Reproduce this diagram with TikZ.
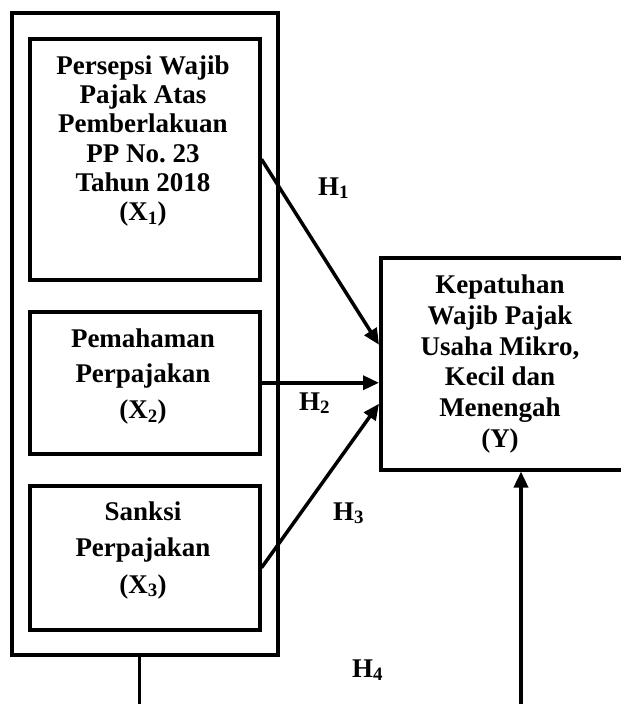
\documentclass[tikz,border=0pt]{standalone}
\usepackage{fontspec}
\setmainfont{Liberation Serif}
\usetikzlibrary{arrows.meta}

\tikzset{
    varbox/.style={draw, line width=3.5pt, inner sep=0pt, anchor=north west},
    vartext/.style={align=center, inner sep=0pt, font=\bfseries\fontsize{27}{#1}\selectfont},
    hlabel/.style={inner sep=0pt, anchor=base west, font=\bfseries\fontsize{27}{27}\selectfont},
    arr/.style={line width=3.5pt, -{Triangle[length=16pt,width=14pt]}}
}

\begin{document}
\frenchspacing
\begin{tikzpicture}[x=1pt, y=-1pt]
        \useasboundingbox (0,0) rectangle (621,704);

        % kotak luar variabel X
        \node[varbox, minimum width=266pt, minimum height=642pt] (outer) at (10,11) {};

        \node[varbox, minimum width=230pt, minimum height=241pt] (x1) at (28,37) {};
        \node[vartext=29.2] (x1text) at (143,141) {Persepsi Wajib\\Pajak Atas\\Pemberlakuan\\PP No. 23\\Tahun 2018\\(X\textsubscript{1})};

        \node[varbox, minimum width=230pt, minimum height=142pt] (x2) at (28,310) {};
        \node[vartext=35.5] (x2text) at (143,376.5) {Pemahaman\\Perpajakan\\(X\textsubscript{2})};

        \node[varbox, minimum width=230pt, minimum height=144pt] (x3) at (28,484) {};
        \node[vartext=36.5] (x3text) at (143,550) {Sanksi\\Perpajakan\\(X\textsubscript{3})};

        % variabel Y
        \node[varbox, minimum width=244pt, minimum height=212pt] (y) at (379,256) {};
        \node[vartext=30.8] (ytext) at (500,364) {Kepatuhan\\Wajib Pajak\\Usaha Mikro,\\Kecil dan\\Menengah\\(Y)};

        % hipotesis
        \draw[arr] (x1.east) -- ([yshift=19pt]y.west);
        \draw[arr] (x2.east) -- (x2.east -| y.west);
        \draw[arr] ([yshift=-10pt]x3.east) -- ([yshift=-40pt]y.west);

        \coordinate (xbottom) at (139,706);
        \coordinate (ybottom) at (521,706);
        \draw[line width=3pt] (outer.south -| xbottom) -- (xbottom);
        \draw[arr] (ybottom) -- (ybottom |- y.south);

        \node[hlabel] (h1) at (318,195) {H\textsubscript{1}};
        \node[hlabel] (h2) at (299,410) {H\textsubscript{2}};
        \node[hlabel] (h3) at (333,520) {H\textsubscript{3}};
        \node[hlabel] (h4) at (352,677) {H\textsubscript{4}};

    \end{tikzpicture}
\end{document}
